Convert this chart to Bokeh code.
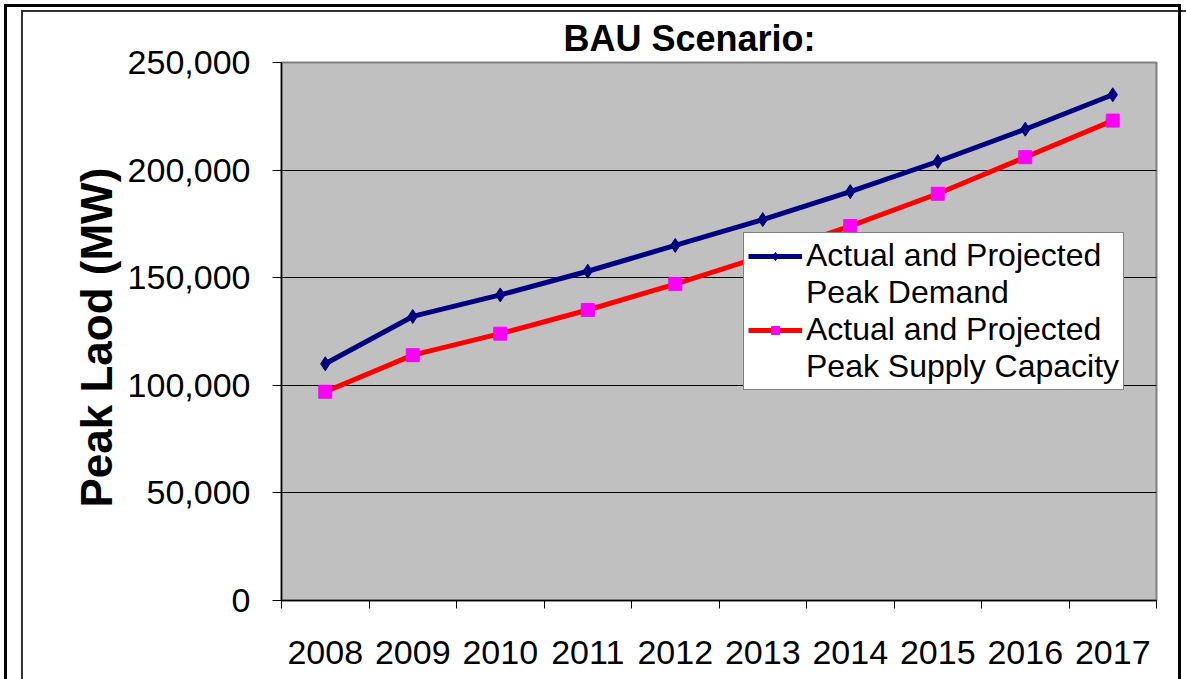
from bokeh.plotting import figure
from bokeh.models import (Range1d, FixedTicker, NumeralTickFormatter, Legend,
                          LegendItem, ColumnDataSource, InlineStyleSheet)
from bokeh.embed import file_html
from bokeh.resources import INLINE

# ---- data ----
years = ["2008", "2009", "2010", "2011", "2012", "2013", "2014", "2015", "2016", "2017"]
peak_demand = [110000, 132000, 142000, 153000, 165000, 177000, 190000, 204000, 219000, 235000]
peak_supply = [97000, 114000, 124000, 135000, 147000, 160000, 174000, 189000, 206000, 223000]
y_ticks = [0, 50000, 100000, 150000, 200000, 250000]
demand_label = ["Actual and Projected", "Peak Demand"]
supply_label = ["Actual and Projected", "Peak Supply Capacity"]

x_pos = [i + 0.5 for i in range(len(years))]
src = ColumnDataSource(dict(x=x_pos, demand=peak_demand, supply=peak_supply))

FONT = "Liberation Sans"
W, H = 1186, 679

p = figure(width=W, height=H, x_range=Range1d(0, len(years)),
           y_range=Range1d(y_ticks[0], y_ticks[-1]),
           output_backend="svg", toolbar_location=None,
           min_border_left=281, min_border_right=W - 1156,
           min_border_top=62, min_border_bottom=H - 600)

# page frame lines drawn as CSS background layers behind the transparent border area
frame_css = """
:host {
  background:
    linear-gradient(#000, #000) 4px 4px / 3px 100% no-repeat,
    linear-gradient(#000, #000) 4px 4px / 1177px 3px no-repeat,
    linear-gradient(#000, #000) 1178px 4px / 3px 100% no-repeat,
    linear-gradient(#333, #333) 21px 10px / 2px 100% no-repeat,
    linear-gradient(#333, #333) 21px 10px / 100% 2px no-repeat,
    #ffffff;
}
"""
p.stylesheets = [InlineStyleSheet(css=frame_css)]

p.background_fill_color = "#C0C0C0"
p.border_fill_color = "white"
p.border_fill_alpha = 0
p.outline_line_color = "#808080"
p.outline_line_width = 2

# title
p.title.text = "BAU Scenario:"
p.title.text_font = FONT
p.title.text_font_size = "36px"
p.title.text_font_style = "bold"
p.title.text_color = "black"
p.title.align = "left"
p.title.offset = 282
p.title.standoff = 7

# grid
p.xgrid.visible = False
p.ygrid.ticker = FixedTicker(ticks=y_ticks)
p.ygrid.grid_line_color = "black"
p.ygrid.grid_line_width = 1

# y axis
ya = p.yaxis[0]
ya.ticker = FixedTicker(ticks=y_ticks, minor_ticks=[])
ya.formatter = NumeralTickFormatter(format="0,0")
ya.major_label_text_font = FONT
ya.major_label_text_font_size = "34px"
ya.major_label_text_color = "black"
ya.major_tick_out = 9
ya.major_tick_in = 0
ya.major_tick_line_color = "black"
ya.axis_line_color = "black"
ya.axis_line_width = 1.5
ya.major_label_standoff = 22
ya.axis_label = "Peak Laod  (MW)"
ya.axis_label_text_font = FONT
ya.axis_label_text_font_size = "44px"
ya.axis_label_text_font_style = "bold"
ya.axis_label_text_color = "black"
ya.axis_label_standoff = 4

# x axis: labels at category centres, ticks at boundaries
xa = p.xaxis[0]
xa.ticker = FixedTicker(ticks=x_pos, minor_ticks=list(range(len(years) + 1)))
xa.major_label_overrides = {x: y for x, y in zip(x_pos, years)}
xa.major_label_text_font = FONT
xa.major_label_text_font_size = "34px"
xa.major_label_text_color = "black"
xa.major_tick_out = 0
xa.major_tick_in = 0
xa.minor_tick_out = 8
xa.minor_tick_in = 0
xa.minor_tick_line_color = "black"
xa.axis_line_color = "black"
xa.axis_line_width = 1.5
xa.major_label_standoff = 32

# series
dl = p.line("x", "demand", source=src, line_color="#000080", line_width=5)
dm = p.scatter("x", "demand", source=src, marker="diamond", size=14,
               fill_color="#000080", line_color="#000080")
sl = p.line("x", "supply", source=src, line_color="#FF0000", line_width=5)
sm = p.scatter("x", "supply", source=src, marker="square", size=13,
               fill_color="#FF00FF", line_color="#FF00FF")
blank = p.line("x", "supply", source=src, line_alpha=0)  # spacer for 2nd label lines

legend = Legend(items=[
    LegendItem(label=demand_label[0], renderers=[dl, dm]),
    LegendItem(label=demand_label[1], renderers=[blank]),
    LegendItem(label=supply_label[0], renderers=[sl, sm]),
    LegendItem(label=supply_label[1], renderers=[blank]),
], location=(462, 210))
legend.label_text_font = FONT
legend.label_text_font_size = "32px"
legend.label_text_color = "black"
legend.glyph_width = 54
legend.glyph_height = 20
legend.label_height = 20
legend.spacing = 0
legend.padding = 4
legend.margin = 0
legend.label_standoff = 4
legend.border_line_color = "black"
legend.border_line_width = 1
legend.background_fill_color = "white"
legend.background_fill_alpha = 1
p.add_layout(legend)

open("out.html", "w").write(file_html(p, INLINE))
